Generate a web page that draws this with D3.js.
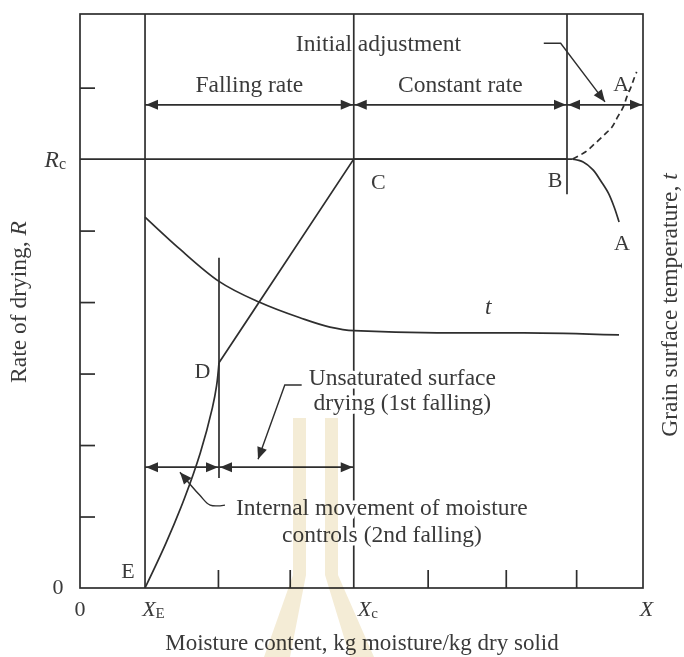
<!DOCTYPE html>
<html>
<head>
<meta charset="utf-8">
<script src="https://cdn.jsdelivr.net/npm/d3@7/dist/d3.min.js"></script>
<style>
  html, body { margin: 0; padding: 0; background: #fff; }
  svg { display: block; }
  text { font-family: "Liberation Serif", "Times New Roman", serif; fill: #3a3a3a; }
</style>
</head>
<body>
<svg id="chart" width="684" height="657"></svg>
<script>
// Moisture content (x) and drying rate (y) in arbitrary chart units
const XE = 0.924;     // equilibrium moisture content
const XD = 1.975;     // end of first falling period
const XC = 3.89;      // critical moisture content
const XB = 6.92;      // start of constant-rate period
const XMAX = 8;
const RC = 6;         // constant drying rate
const YMAX = 8.03;

const xTickValues = [1.96, 2.98, 4.94, 6.05, 7.05];
const yTickValues = [1, 2, 3, 4, 5, 7];

// Rate of drying: E -> D (curved), D -> C -> B (straight), B -> A (curved)
const rateED = [[0.924, 0], [1.223, 0.63], [1.486, 1.26], [1.709, 1.89], [1.881, 2.52], [1.941, 2.83], [1.975, 3.15]];
const rateDCB = [[1.975, 3.15], [3.89, 6], [6.92, 6], [7.0, 6]];
const rateBA = [[7.0, 6], [7.15, 5.96], [7.29, 5.85], [7.41, 5.68], [7.51, 5.52], [7.59, 5.33], [7.66, 5.12]];
const rateBAdash = [[7.0, 6], [7.18, 6.1], [7.32, 6.22], [7.45, 6.34], [7.56, 6.45], [7.64, 6.59], [7.72, 6.73], [7.77, 6.87], [7.83, 7.01], [7.87, 7.12], [7.91, 7.22]];

// Grain surface temperature, t
const tempCurve = [[0.924, 5.19], [1.421, 4.74], [1.975, 4.29], [2.544, 4.0], [3.126, 3.78], [3.552, 3.65], [3.893, 3.6], [5.073, 3.57], [6.309, 3.57], [7.659, 3.54]];

// Period spans shown with double-headed arrows
const periodSpans = [
  { from: XE, to: XC, y: 6.76, label: "Falling rate" },
  { from: XC, to: XB, y: 6.76, label: "Constant rate" },
  { from: XB, to: XMAX, y: 6.76, label: "" },
  { from: XE, to: XD, y: 1.69, label: "" },
  { from: XD, to: XC, y: 1.69, label: "" }
];

const svg = d3.select("#chart");
const x = d3.scaleLinear().domain([0, XMAX]).range([80, 643]);
const y = d3.scaleLinear().domain([0, YMAX]).range([588, 14]);
const ink = "#2e2e2e";
const lw = 1.7;
const fs = 23.5;

const g = svg.append("g");

// Frame
g.append("rect")
  .attr("x", x(0)).attr("y", y(YMAX))
  .attr("width", x(XMAX) - x(0)).attr("height", y(0) - y(YMAX))
  .attr("fill", "none").attr("stroke", ink).attr("stroke-width", lw);

// Inward ticks on the left and bottom edges
const yAxis = d3.axisRight(y).tickValues(yTickValues).tickSize(15).tickFormat("");
g.append("g").attr("transform", `translate(${x(0)},0)`).call(yAxis)
  .call(s => s.select(".domain").remove())
  .selectAll("line").attr("stroke", ink).attr("stroke-width", lw);

const xAxis = d3.axisTop(x).tickValues(xTickValues).tickSize(18).tickFormat("");
g.append("g").attr("transform", `translate(0,${y(0)})`).call(xAxis)
  .call(s => s.select(".domain").remove())
  .selectAll("line").attr("stroke", ink).attr("stroke-width", lw);

// Vertical division lines
const vline = (xv, y0, y1) => g.append("line")
  .attr("x1", x(xv)).attr("x2", x(xv)).attr("y1", y(y0)).attr("y2", y(y1))
  .attr("stroke", ink).attr("stroke-width", lw);
vline(XE, 0, YMAX);
vline(XC, 0, YMAX);
vline(XB, 5.51, YMAX);
vline(XD, 1.54, 4.62);

// Constant-rate level line from the axis to B
g.append("line")
  .attr("x1", x(0)).attr("x2", x(XB)).attr("y1", y(RC)).attr("y2", y(RC))
  .attr("stroke", ink).attr("stroke-width", lw);

// Curves
const line = d3.line().x(d => x(d[0])).y(d => y(d[1]));
const smooth = d3.line().x(d => x(d[0])).y(d => y(d[1])).curve(d3.curveCatmullRom.alpha(0.5));
const mono = d3.line().x(d => x(d[0])).y(d => y(d[1])).curve(d3.curveMonotoneX);
const path = (gen, data, dash) => g.append("path").attr("d", gen(data))
  .attr("fill", "none").attr("stroke", ink).attr("stroke-width", lw)
  .attr("stroke-dasharray", dash || null);
path(smooth, rateED);
path(line, rateDCB);
path(smooth, rateBA);
path(smooth, rateBAdash, "6,4");
path(mono, tempCurve);

// Arrowheads
function arrowHead(tipX, tipY, angle, len = 12, half = 5) {
  const pts = [[0, 0], [-len, -half], [-len, half]].map(([px, py]) => [
    tipX + px * Math.cos(angle) - py * Math.sin(angle),
    tipY + px * Math.sin(angle) + py * Math.cos(angle)
  ]);
  g.append("path").attr("d", "M" + pts.join("L") + "Z").attr("fill", ink);
}

// Double-headed period arrows
periodSpans.forEach(s => {
  const x0 = x(s.from), x1 = x(s.to), yy = y(s.y);
  g.append("line").attr("x1", x0).attr("x2", x1).attr("y1", yy).attr("y2", yy)
    .attr("stroke", ink).attr("stroke-width", lw);
  arrowHead(x0 + 1, yy, Math.PI);
  arrowHead(x1 - 1, yy, 0);
  if (s.label) {
    g.append("text").attr("x", (x0 + x1) / 2).attr("y", yy - 13)
      .attr("text-anchor", "middle").attr("font-size", fs).text(s.label);
  }
});

// Annotation leader lines (data coordinates), ending in an arrowhead
const leaders = [
  [[6.59, 7.62], [6.83, 7.62], [7.46, 6.8]],
  [[3.15, 2.84], [2.91, 2.84], [2.53, 1.8]],
  [[2.06, 1.16], [1.85, 1.16], [1.7, 1.3], [1.42, 1.62]]
];
leaders.forEach((pts, i) => {
  const gen = i === 2 ? smooth : line;
  g.append("path").attr("d", gen(pts)).attr("fill", "none")
    .attr("stroke", ink).attr("stroke-width", 1.4);
  const a = pts[pts.length - 2], b = pts[pts.length - 1];
  const ang = Math.atan2(y(b[1]) - y(a[1]), x(b[0]) - x(a[0]));
  arrowHead(x(b[0]), y(b[1]), ang, 12, 5);
});

// Text labels
const label = (txt, xv, yv, opts = {}) => {
  const t = g.append("text").attr("x", x(xv)).attr("y", y(yv))
    .attr("text-anchor", opts.anchor || "middle")
    .attr("dominant-baseline", "central")
    .attr("font-size", opts.size || fs);
  if (opts.italic) t.attr("font-style", "italic");
  if (opts.bg) t.attr("paint-order", "stroke").attr("stroke", "#fff").attr("stroke-width", 7);
  t.text(txt);
  return t;
};

label("Initial adjustment", 4.24, 7.63);
label("A", 7.69, 7.06, { size: 22 });
label("C", 4.24, 5.68, { size: 22 });
label("B", 6.75, 5.71, { size: 22 });
label("A", 7.7, 4.83, { size: 22 });
label("t", 5.8, 3.95, { italic: true });
label("D", 1.74, 3.04, { size: 22 });
label("E", 0.68, 0.25, { size: 22 });

// Text blocks with a white backing that interrupts the lines beneath
label("Unsaturated surface", 4.58, 2.95, { bg: true });
label("drying (1st falling)", 4.58, 2.6, { bg: true });
label("Internal movement of moisture", 4.29, 1.14, { bg: true });
label("controls (2nd falling)", 4.29, 0.76, { bg: true });

// Rc level label
const rc = g.append("text").attr("x", x(0) - 14).attr("y", y(RC))
  .attr("text-anchor", "end").attr("dominant-baseline", "central").attr("font-size", fs);
rc.append("tspan").attr("font-style", "italic").text("R");
rc.append("tspan").attr("font-size", 16).attr("dy", 4).text("c");

// Zero on the rate axis
g.append("text").attr("x", x(0) - 22).attr("y", y(0) - 2).attr("text-anchor", "middle")
  .attr("dominant-baseline", "central").attr("font-size", 22).text("0");

// Moisture axis labels
const xLab = (xv, main, sub, italic) => {
  const t = g.append("text").attr("x", x(xv)).attr("y", 608)
    .attr("text-anchor", "middle").attr("dominant-baseline", "central").attr("font-size", 22);
  const m = t.append("tspan").text(main);
  if (italic) m.attr("font-style", "italic");
  if (sub) t.append("tspan").attr("font-size", 15).attr("dy", 5).text(sub);
};
xLab(0, "0", null, false);
xLab(XE + 0.12, "X", "E", true);
xLab(XC + 0.2, "X", "c", true);
xLab(8.05, "X", null, true);

g.append("text").attr("x", 362).attr("y", 642).attr("text-anchor", "middle")
  .attr("dominant-baseline", "central").attr("font-size", 23)
  .text("Moisture content, kg moisture/kg dry solid");

// Left axis title
const yl = g.append("text").attr("transform", "translate(18,302) rotate(-90)")
  .attr("text-anchor", "middle").attr("dominant-baseline", "central").attr("font-size", fs);
yl.append("tspan").text("Rate of drying, ");
yl.append("tspan").attr("font-style", "italic").text("R");

// Right axis title
const yr = g.append("text").attr("transform", "translate(669,305) rotate(-90)")
  .attr("text-anchor", "middle").attr("dominant-baseline", "central").attr("font-size", fs);
yr.append("tspan").text("Grain surface temperature, ");
yr.append("tspan").attr("font-style", "italic").text("t");

// Faint emblem printed over the lower middle of the page
const mark = svg.append("g").attr("fill", "#ead9ad").attr("opacity", 0.5)
  .style("mix-blend-mode", "multiply");
mark.append("path").attr("d", "M293,418 L306,418 L306,575 L290,657 L264,657 L293,575 Z");
mark.append("path").attr("d", "M325,418 L338,418 L338,575 L374,657 L350,657 L325,575 Z");
</script>
</body>
</html>
